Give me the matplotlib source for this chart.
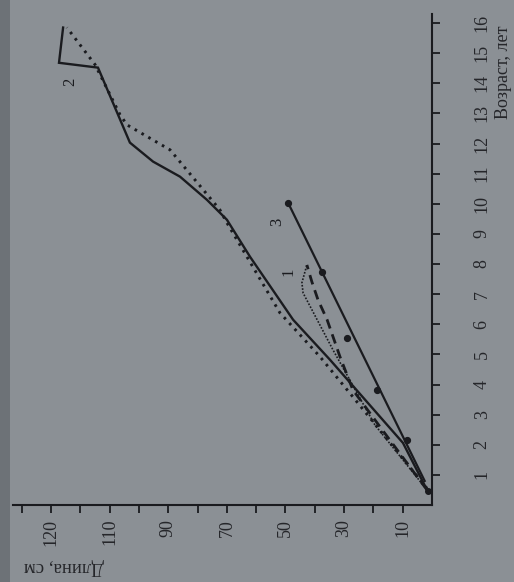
import matplotlib
matplotlib.use('Agg')
import matplotlib.pyplot as plt
from matplotlib.patches import Rectangle

# ---- data (length, cm ; age, years) ----
# curve 2, observed (solid)
len2_obs = [1.7, 9.9, 34.8, 47.4, 62.1, 70.0, 76.8, 86.0, 95.2, 103.1, 114.0, 127.3, 125.9]
age2_obs = [0.5, 2.06, 4.82, 6.15, 8.24, 9.47, 10.13, 10.9, 11.4, 12.03, 14.52, 14.68, 15.85]
# curve 2, calculated (dotted)
len2_calc = [1.7, 27.0, 38.2, 51.9, 70.0, 72.4, 89.4, 104.1, 106.5, 115.0, 124.6]
age2_calc = [0.55, 3.59, 4.92, 6.38, 9.37, 9.8, 11.79, 12.62, 12.96, 14.62, 15.85]
# curve 1, observed (dashed)
len1_obs = [1.7, 17.7, 27.0, 31.4, 35.8, 38.9, 41.0, 42.7]
age1_obs = [0.5, 2.59, 3.82, 4.92, 6.15, 6.81, 7.41, 7.97]
# curve 1, calculated (fine dotted)
len1_calc = [1.7, 19.5, 33.8, 44.0, 44.4, 42.7]
age1_calc = [0.5, 2.66, 5.15, 7.04, 7.38, 7.97]
# curve 3, line and points
len3_line = [2.5, 49.1]
age3_line = [0.8, 10.03]
len3_pts = [49.1, 37.5, 29.0, 18.8, 8.5]
age3_pts = [10.03, 7.74, 5.55, 3.82, 2.16]
start_len = [1.4]
start_age = [0.47]

len_ticks = [10, 20, 30, 40, 50, 60, 70, 80, 90, 100, 110, 120, 130, 140]
len_labels = ['10', '', '30', '', '50', '', '70', '', '90', '', '110', '', '120', '']
age_ticks = list(range(1, 17))
age_labels = [str(a) for a in age_ticks]

bg = '#8b9095'
ink = '#1a1b1f'
txt = '#25262a'
serif = ['Liberation Serif', 'DejaVu Serif']

fig = plt.figure(figsize=(5.14, 5.82), dpi=100, facecolor=bg)
fig.patches.append(Rectangle((0, 0), 10 / 514, 1, transform=fig.transFigure,
                             facecolor='#6d7277', edgecolor='none', zorder=0))
ax = fig.add_axes([13 / 514, 77 / 582, 419 / 514, 491 / 582])
ax.set_facecolor('none')

ax.plot(len2_obs, age2_obs, color=ink, lw=1.7, solid_joinstyle='miter')
ax.plot(len2_calc, age2_calc, color=ink, lw=2.1, linestyle=(0, (0.9, 1.8)))
ax.plot(len1_obs, age1_obs, color=ink, lw=2.0, linestyle=(0, (3.5, 2.2)))
ax.plot(len1_calc, age1_calc, color=ink, lw=1.2, linestyle=(0, (1, 1)))
ax.plot(len3_line, age3_line, color=ink, lw=1.6)
ax.plot(len3_pts, age3_pts, 'o', color=ink, ms=4.2)
ax.plot(start_len, start_age, 'o', color=ink, ms=4)

ax.text(123.5, 14.05, '2', rotation=90, ha='center', va='center', fontsize=12,
        color=ink, family=serif)
ax.text(52.9, 9.4, '3', rotation=90, ha='center', va='center', fontsize=12,
        color=ink, family=serif)
ax.text(49.1, 7.74, '1', rotation=90, ha='center', va='center', fontsize=12,
        color=ink, family=serif)

ax.set_xlim(143, 0)
ax.set_ylim(0, 16.3)
for s in ('left', 'top'):
    ax.spines[s].set_visible(False)
for s in ('bottom', 'right'):
    ax.spines[s].set_color(ink)
    ax.spines[s].set_linewidth(1.5)

ax.set_xticks(len_ticks)
ax.set_xticklabels(len_labels, rotation=90, family=serif, fontsize=13, color=txt)
ax.yaxis.tick_right()
ax.set_yticks(age_ticks)
ax.set_yticklabels(age_labels, rotation=90, family=serif, fontsize=13, color=txt,
                   va='center')
ax.tick_params(axis='x', direction='out', length=6, width=1.3, color=ink, pad=4)
ax.tick_params(axis='y', direction='out', length=6, width=1.3, color=ink, pad=24)

fig.text(504 / 514, 1 - 72 / 582, 'Возраст, лет', rotation=90, ha='center', va='center',
         fontsize=13, color=txt, family=serif)
fig.text(64 / 514, 1 - 567 / 582, 'Длина, см', rotation=180, ha='center', va='center',
         fontsize=13.5, color=txt, family=serif)

fig.savefig('out.png', dpi=100, facecolor=bg)
